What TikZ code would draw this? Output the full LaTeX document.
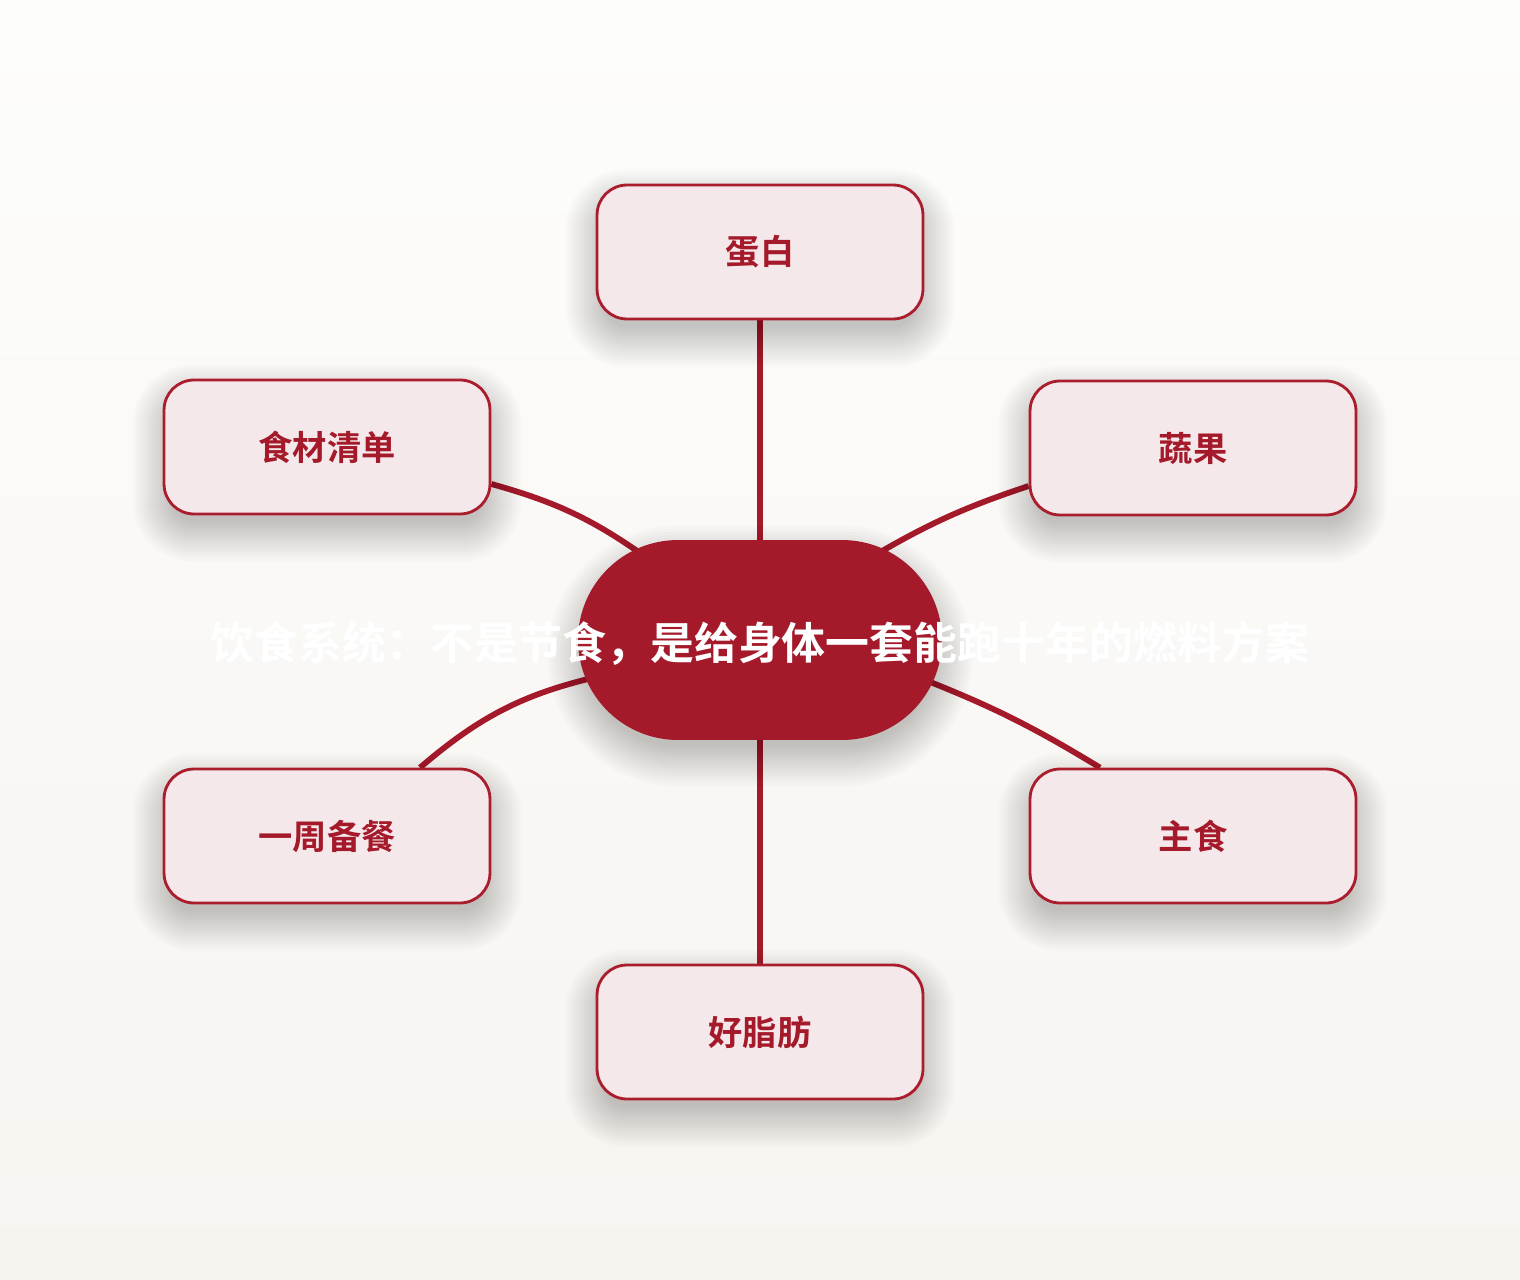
\documentclass[tikz,border=0pt]{standalone}
\usepackage{fontspec}
\usepackage{tikz}
\usetikzlibrary{positioning, backgrounds}
\newfontfamily\cjk{Noto Sans CJK SC}[BoldFont={Noto Sans CJK SC Bold}]
\definecolor{hubred}{RGB}{165,26,42}
\definecolor{boxfill}{RGB}{245,232,235}
\definecolor{boxline}{RGB}{170,29,45}
\definecolor{pagetop}{RGB}{253,253,252}
\definecolor{pagebot}{RGB}{247,244,240}

\begin{document}
\begin{tikzpicture}[x=0.02cm, y=0.02cm,
    box/.style={rectangle, rounded corners=0.6cm, draw=boxline, line width=1.6pt, fill=boxfill, minimum width=6.52cm, minimum height=2.68cm, align=center, text=hubred, font={\cjk\bfseries\fontsize{19.5pt}{19.5pt}\selectfont}},
    hub/.style={rectangle, rounded corners=2cm, fill=hubred, minimum width=7.28cm, minimum height=4cm, inner sep=0pt},
    title/.style={text=white, inner sep=0pt, font={\cjk\bfseries\fontsize{25pt}{25pt}\selectfont}},
    link/.style={draw=hubred, line width=3.3pt},
    haze/.style={fill=black, fill opacity=0.017}
]
\useasboundingbox (0,0) rectangle (1520,-1280);

\node[box] (protein) at (760,-252) {蛋白};
\node[box] (veg) at (1193,-448) {蔬果};
\node[box] (list) at (327,-447) {食材清单};
\node[box] (prep) at (327,-836) {一周备餐};
\node[box] (staple) at (1193,-836) {主食};
\node[box] (fat) at (760,-1032) {好脂肪};

\node[hub] (hub) at (760,-640) {};
\node[title] (diet) at (760,-644) {饮食系统：不是节食，是给身体一套能跑十年的燃料方案};

\begin{pgfonlayer}{background}
\shade[top color=pagetop, bottom color=pagebot] (0,0) rectangle (1520,-1280);
\draw[link] (protein) -- (hub);
\draw[link] (hub) -- (fat);
\draw[link] ([shift={(0,-37)}]list.east) to[bend left=10] ([shift={(-110,80)}]hub.center);
\draw[link] ([shift={(0,-38)}]veg.west) to[bend right=6] ([shift={(110,82)}]hub.center);
\draw[link] ([shift={(93,0)}]prep.north) to[bend left=14] ([shift={(-155,-35)}]hub.center);
\draw[link] ([shift={(-93,0)}]staple.north) to[bend right=5] ([shift={(155,-36)}]hub.center);
\foreach \n/\r in {protein/30, veg/30, list/30, prep/30, staple/30, fat/30, hub/100}
  \foreach \k in {1,...,14}{
    \pgfmathsetmacro\rad{(\r+3*\k-12)*0.02}
    \fill[haze, rounded corners=\rad cm] ([shift={(-3*\k+12,-3*\k-4)}]\n.south west) rectangle ([shift={(3*\k-12,3*\k-28)}]\n.north east);
  }
\end{pgfonlayer}

\end{tikzpicture}
\end{document}
